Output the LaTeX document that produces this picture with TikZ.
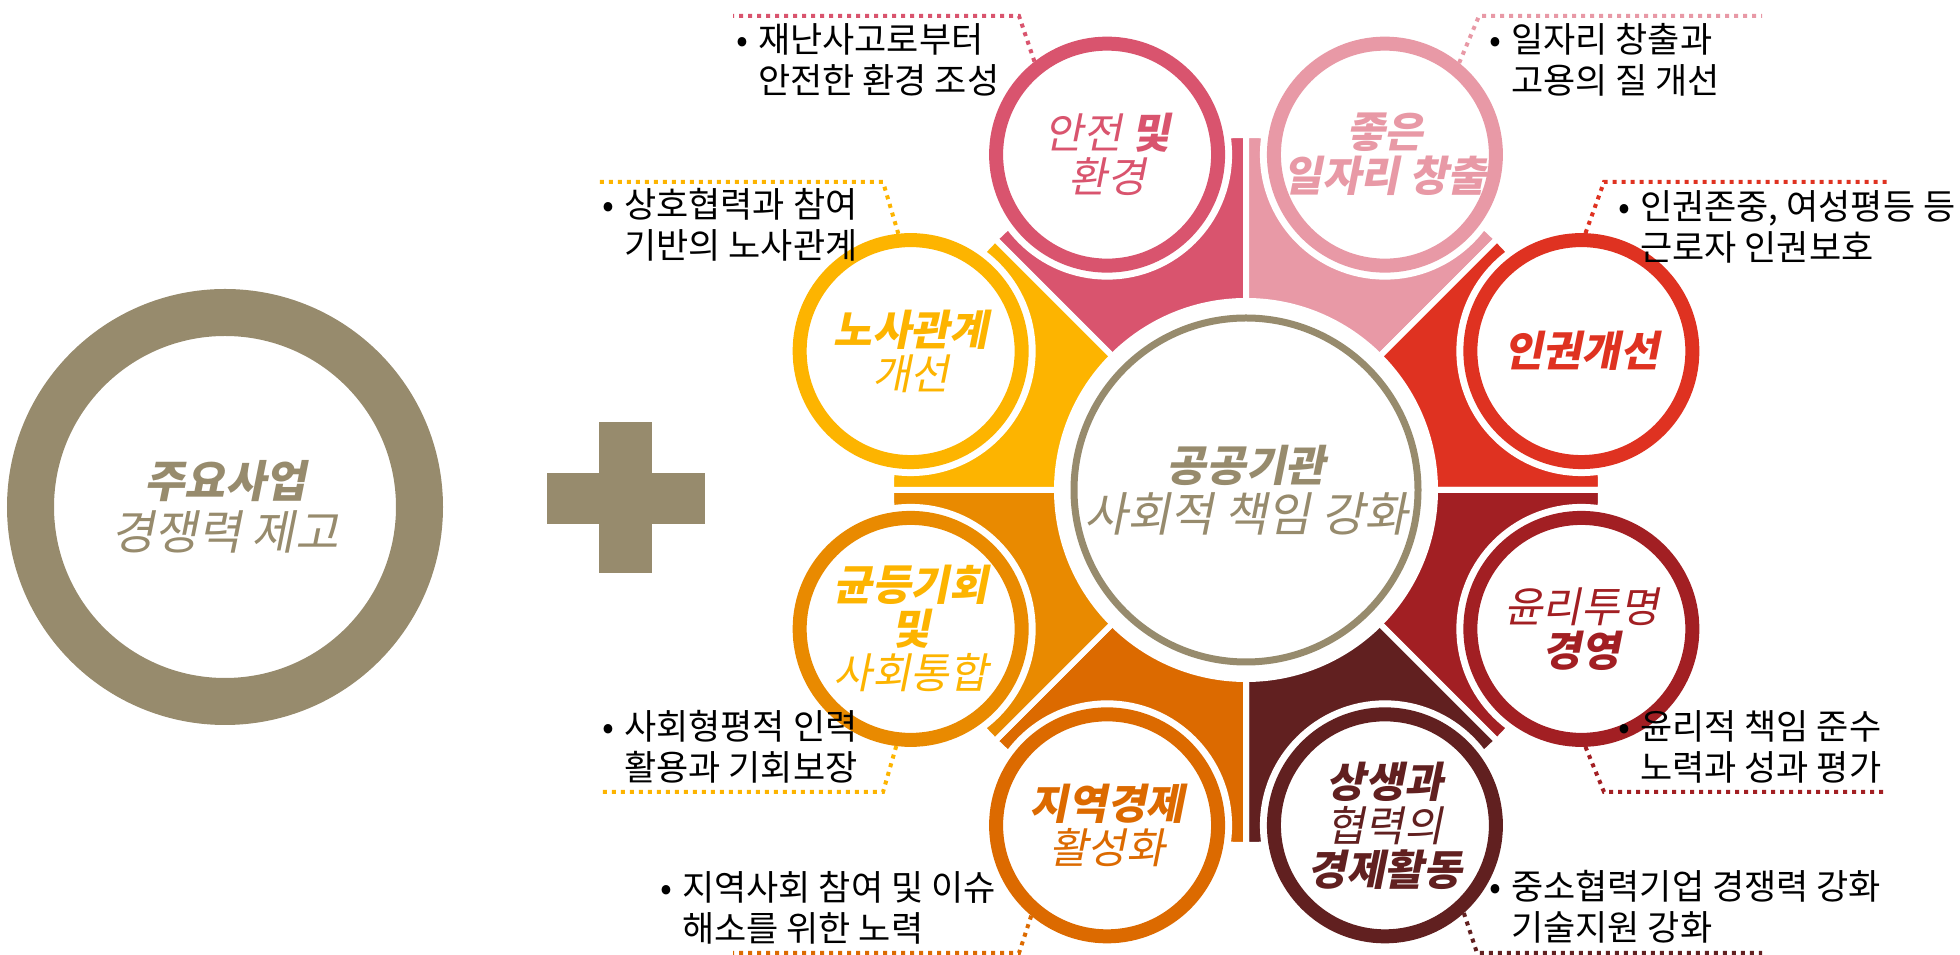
\documentclass[tikz,border=0pt]{standalone}
\usepackage{fontspec}
\setmainfont{Noto Sans CJK KR}
\newfontfamily\krsl{Noto Sans CJK KR}[FakeSlant=0.2]
\usepackage{tikz}
\definecolor{khaki}{HTML}{978B6D}
\definecolor{anjeon}{HTML}{D9546E}
\definecolor{joeun}{HTML}{E899A6}
\definecolor{ingwon}{HTML}{DF3221}
\definecolor{yulli}{HTML}{A21F23}
\definecolor{sangsaeng}{HTML}{612020}
\definecolor{jiyeok}{HTML}{DC6A00}
\definecolor{gyundeung}{HTML}{E98A00}
\definecolor{nosa}{HTML}{FDB400}
\newcommand{\bulletnote}[2]{\begin{tabular}[t]{@{}l@{}}\makebox[22pt][l]{•}#1\\\hspace*{22pt}#2\end{tabular}}

\begin{document}
\begin{tikzpicture}[
    x=1pt, y=1pt,
    sat/.style={circle, draw=#1, line width=14pt, fill=white, minimum size=222pt, inner sep=0pt,
        preaction={draw=white, line width=28pt}, text=#1, align=center,
        font=\krsl\fontsize{42}{44}\selectfont},
    wedge/.style={fill=#1, draw=white, line width=6pt},
    lead/.style={draw=#1, line width=4pt, dash pattern=on 4pt off 5pt},
    note/.style={anchor=base west, inner sep=0pt, font=\fontsize{35}{38}\selectfont},
]
\useasboundingbox (0,0) rectangle (1960,955);

% === Main business (left) ===
\node[circle, draw=khaki, line width=47pt, minimum size=389pt, inner sep=0pt, text=khaki,
      align=center, font=\krsl\fontsize{47}{52}\selectfont] (biz) at (225,448)
      {{\bfseries\fontsize{44}{52}\selectfont 주요사업}\\경쟁력 제고};

% Plus sign
\fill[khaki] (547,431) rectangle (705,482);
\fill[khaki] (599,382) rectangle (652,533);

% === Flower (right) ===
\coordinate (ctr) at (1246,465);

\path[wedge=anjeon] (ctr) -- ++(90:355) arc[start angle=90, end angle=135, radius=355] -- cycle;
\path[wedge=joeun] (ctr) -- ++(45:355) arc[start angle=45, end angle=90, radius=355] -- cycle;
\path[wedge=ingwon] (ctr) -- ++(0:355) arc[start angle=0, end angle=45, radius=355] -- cycle;
\path[wedge=yulli] (ctr) -- ++(-45:355) arc[start angle=-45, end angle=0, radius=355] -- cycle;
\path[wedge=sangsaeng] (ctr) -- ++(-90:355) arc[start angle=-90, end angle=-45, radius=355] -- cycle;
\path[wedge=jiyeok] (ctr) -- ++(-135:355) arc[start angle=-135, end angle=-90, radius=355] -- cycle;
\path[wedge=gyundeung] (ctr) -- ++(180:355) arc[start angle=180, end angle=225, radius=355] -- cycle;
\path[wedge=nosa] (ctr) -- ++(135:355) arc[start angle=135, end angle=180, radius=355] -- cycle;

\fill[white] (ctr) circle[radius=192];
\node[circle, draw=khaki, line width=7pt, minimum size=344pt, inner sep=0pt, text=khaki,
      align=center, font=\krsl\fontsize{47}{50}\selectfont] (csr) at (ctr)
      {{\bfseries\fontsize{43}{50}\selectfont 공공기관}\\사회적 책임 강화};

% Satellites
\node[sat=anjeon] (s1) at ([shift={(112.5:363)}]ctr) {안전 {\bfseries 및}\\환경};
\node[sat=joeun] (s2) at ([shift={(67.5:363)}]ctr) {{\bfseries 좋은}\\{\bfseries 일자리 창출}};
\node[sat=ingwon] (s3) at ([shift={(22.5:363)}]ctr) {\bfseries 인권개선};
\node[sat=yulli] (s4) at ([shift={(-22.5:363)}]ctr) {윤리투명\\{\bfseries 경영}};
\node[sat=sangsaeng] (s5) at ([shift={(-67.5:363)}]ctr) {{\bfseries 상생과}\\협력의\\{\bfseries 경제활동}};
\node[sat=jiyeok] (s6) at ([shift={(-112.5:363)}]ctr) {{\bfseries 지역경제}\\활성화};
\node[sat=gyundeung, text=nosa] (s7) at ([shift={(-157.5:363)}]ctr) {{\bfseries 균등기회}\\{\bfseries 및}\\사회통합};
\node[sat=nosa] (s8) at ([shift={(157.5:363)}]ctr) {{\bfseries 노사관계}\\개선};

% Leaders
\coordinate (k1) at (1019,939);
\coordinate (k2) at (1479,939);
\coordinate (k3) at (1604,773);
\coordinate (k4) at (1604,163);
\coordinate (k5) at (1477,2);
\coordinate (k6) at (1019,2);
\coordinate (k7) at (883,163);
\coordinate (k8) at (883,773);

\draw[lead=anjeon] (s1.128) -- (k1) -- ++(-286,0);
\draw[lead=joeun] (s2.51) -- (k2) -- ++(283,0);
\draw[lead=ingwon] (s3.88) -- (k3) -- ++(283,0);
\draw[lead=yulli] (s4.272) -- (k4) -- ++(283,0);
\draw[lead=sangsaeng] (s5.312) -- (k5) -- ++(285,0);
\draw[lead=jiyeok] (s6.230) -- (k6) -- ++(-286,0);
\draw[lead=nosa] (s7.263) -- (k7) -- ++(-285,0);
\draw[lead=nosa] (s8.96) -- (k8) -- ++(-285,0);

% Notes
\node[note] (n1) at (736,902) {\bulletnote{재난사고로부터}{안전한 환경 조성}};
\node[note] (n2) at (1489,902) {\bulletnote{일자리 창출과}{고용의 질 개선}};
\node[note] (n3) at (1618,735) {\bulletnote{인권존중, 여성평등 등}{근로자 인권보호}};
\node[note] (n4) at (1618,215) {\bulletnote{윤리적 책임 준수}{노력과 성과 평가}};
\node[note] (n5) at (1489,55) {\bulletnote{중소협력기업 경쟁력 강화}{기술지원 강화}};
\node[note] (n6) at (660,54) {\bulletnote{지역사회 참여 및 이슈}{해소를 위한 노력}};
\node[note] (n7) at (602,215) {\bulletnote{사회형평적 인력}{활용과 기회보장}};
\node[note] (n8) at (602,737) {\bulletnote{상호협력과 참여}{기반의 노사관계}};

\end{tikzpicture}
\end{document}
